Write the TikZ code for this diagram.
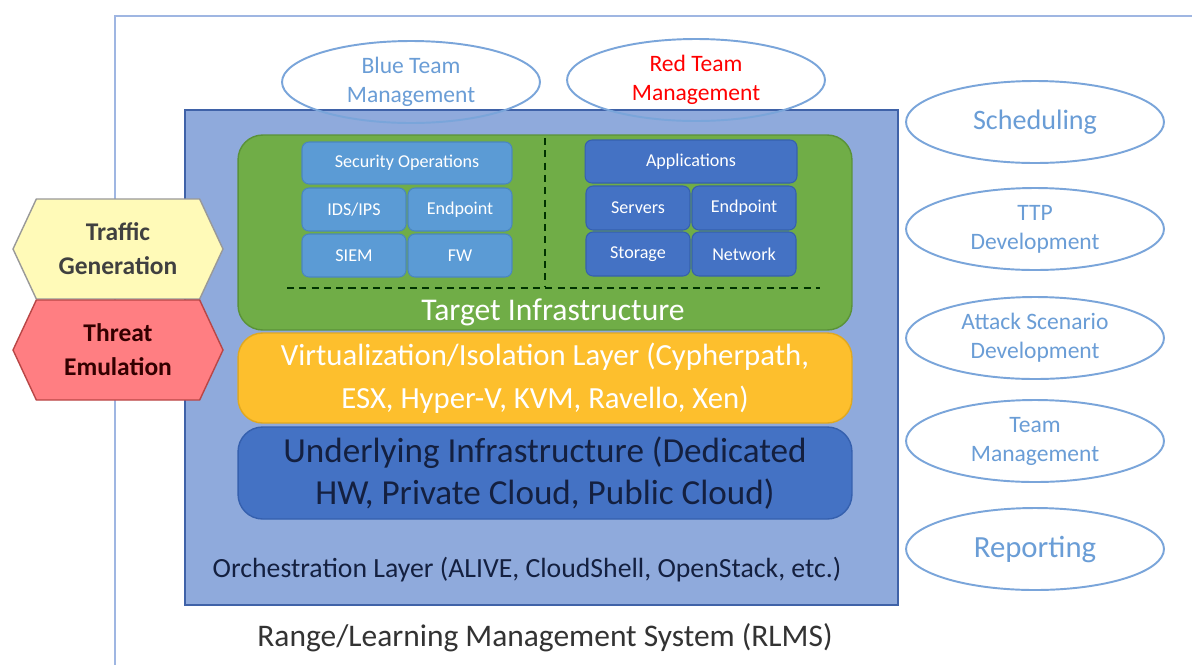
\documentclass[tikz,border=0pt]{standalone}
\usepackage{fontspec}
\setmainfont{Carlito}
\usetikzlibrary{shapes.geometric,shapes.symbols}

\definecolor{orchFill}{HTML}{8FAADC}
\definecolor{orchLine}{HTML}{3F62A8}
\definecolor{greenFill}{HTML}{70AD47}
\definecolor{greenLine}{HTML}{5A9238}
\definecolor{yellowFill}{HTML}{FDBF2D}
\definecolor{yellowLine}{HTML}{E0A820}
\definecolor{darkFill}{HTML}{4472C4}
\definecolor{darkLine}{HTML}{3560AE}
\definecolor{lightFill}{HTML}{5B9BD5}
\definecolor{lightLine}{HTML}{4A86C0}
\definecolor{ovalLine}{HTML}{7AA5DA}
\definecolor{ovalText}{HTML}{6A9DD6}
\definecolor{navyText}{HTML}{142040}
\definecolor{trafFill}{HTML}{FFFAB8}
\definecolor{threatFill}{HTML}{FF7E82}
\definecolor{rlmsLine}{HTML}{9FB6E2}

\tikzstyle{layerS}=[rounded corners=14pt,draw,line width=0.8pt,minimum width=12.28cm,inner sep=0pt,align=center]
\tikzstyle{boxS}=[rounded corners=4pt,draw,line width=0.6pt,inner sep=0pt,text=white,font=\fontsize{10.3}{12}\selectfont]
\tikzstyle{ovalS}=[ellipse,draw=ovalLine,line width=1.1pt,minimum width=5.16cm,minimum height=1.64cm,inner sep=0pt,align=center,text=ovalText,font=\fontsize{13.4}{16.5}\selectfont]
\tikzstyle{hexS}=[signal,signal to=west and east,signal pointer angle=130,draw=gray!80,line width=0.8pt,minimum width=4.2cm,minimum height=2.0cm,inner sep=0pt,align=center,font=\bfseries\fontsize{14.5}{19.3}\selectfont]
\tikzstyle{divS}=[line width=1.3pt,dash pattern=on 4pt off 3pt,black!80!green]

\begin{document}
\begin{tikzpicture}[x=0.02cm,y=-0.02cm]
    \clip (0,0) rectangle (1192,664);
    \fill[white] (0,0) rectangle (1192,664);
    % outer RLMS frame, runs off the page
    \coordinate (rlmsBL) at (115,690);
    \coordinate (rlmsTR) at (1220,16);
    \draw[rlmsLine,line width=1.2pt] (rlmsBL) |- (rlmsTR);
    % orchestration layer
    \draw (541.5,357.5) node[draw=orchLine,fill=orchFill,line width=0.8pt,minimum width=14.26cm,minimum height=9.9cm] (orch) {};
    % stacked layers
    \draw (545,232.5) node[layerS,draw=greenLine,fill=greenFill,minimum height=3.9cm] (target) {};
    \draw (545,378) node[layerS,draw=yellowLine,fill=yellowFill,minimum height=1.8cm,text=white,font=\fontsize{17.5}{24.4}\selectfont] (virt) {Virtualization/Isolation Layer (Cypherpath,\\ESX, Hyper-V, KVM, Ravello, Xen)};
    \draw (545,473) node[layerS,draw=darkLine,fill=darkFill,minimum height=1.84cm,text=navyText,font=\fontsize{20}{24}\selectfont] (under) {Underlying Infrastructure (Dedicated\\HW, Private Cloud, Public Cloud)};
    % blue side boxes
    \draw (407,163) node[boxS,draw=lightLine,fill=lightFill,minimum width=4.2cm,minimum height=0.84cm] (secops) {Security Operations};
    \draw (354,209.5) node[boxS,draw=lightLine,fill=lightFill,minimum width=2.08cm,minimum height=0.86cm] (ids) {IDS/IPS};
    \draw (460,209.5) node[boxS,draw=lightLine,fill=lightFill,minimum width=2.08cm,minimum height=0.86cm] (endL) {Endpoint};
    \draw (354,255.5) node[boxS,draw=lightLine,fill=lightFill,minimum width=2.08cm,minimum height=0.86cm] (siem) {SIEM};
    \draw (460,255.5) node[boxS,draw=lightLine,fill=lightFill,minimum width=2.08cm,minimum height=0.86cm] (fw) {FW};
    % red side boxes
    \draw (691,161.5) node[boxS,draw=darkLine,fill=darkFill,minimum width=4.24cm,minimum height=0.86cm] (apps) {Applications};
    \draw (638,208) node[boxS,draw=darkLine,fill=darkFill,minimum width=2.08cm,minimum height=0.88cm] (servers) {Servers};
    \draw (744,208) node[boxS,draw=darkLine,fill=darkFill,minimum width=2.08cm,minimum height=0.88cm] (endR) {Endpoint};
    \draw (638,254) node[boxS,draw=darkLine,fill=darkFill,minimum width=2.08cm,minimum height=0.88cm] (storage) {Storage};
    \draw (744,254) node[boxS,draw=darkLine,fill=darkFill,minimum width=2.08cm,minimum height=0.88cm] (network) {Network};
    % dashed dividers
    \coordinate (divTop) at (545,138);
    \coordinate (divBot) at (545,286);
    \coordinate (divL) at (287,288);
    \coordinate (divR) at (820,288);
    \draw[divS] (divTop) -- (divBot);
    \draw[divS] (divL) -- (divR);
    % labels
    \draw (553,312) node[text=white,font=\fontsize{18}{20}\selectfont] (targetLbl) {Target Infrastructure};
    \draw (527,570) node[text=navyText,font=\fontsize{15.8}{18}\selectfont] (orchLbl) {Orchestration Layer (ALIVE, CloudShell, OpenStack, etc.)};
    \draw (545,638) node[text=black!80,font=\fontsize{17.9}{20}\selectfont] (rlmsLbl) {Range/Learning Management System (RLMS)};
    % team ovals
    \draw (411,82) node[ovalS] (blue) {Blue Team\\Management};
    \draw (696,80) node[ovalS,text=red] (red) {Red Team\\Management};
    % service ovals
    \draw (1035,122) node[ovalS,font=\fontsize{16}{18}\selectfont] (sched) {Scheduling};
    \draw (1035,229) node[ovalS] (ttp) {TTP\\Development};
    \draw (1035,338) node[ovalS] (attack) {Attack Scenario\\Development};
    \draw (1035,441) node[ovalS] (team) {Team\\Management};
    \draw (1035,549) node[ovalS,font=\fontsize{17.5}{20}\selectfont] (report) {Reporting};
    % side hexagons
    \draw (118,249) node[hexS,fill=trafFill,text=black!75] (traffic) {Traffic\\Generation};
    \draw (118,350) node[hexS,fill=threatFill,draw=red!45!gray,text=black!80!red] (threat) {Threat\\Emulation};
\end{tikzpicture}
\end{document}
